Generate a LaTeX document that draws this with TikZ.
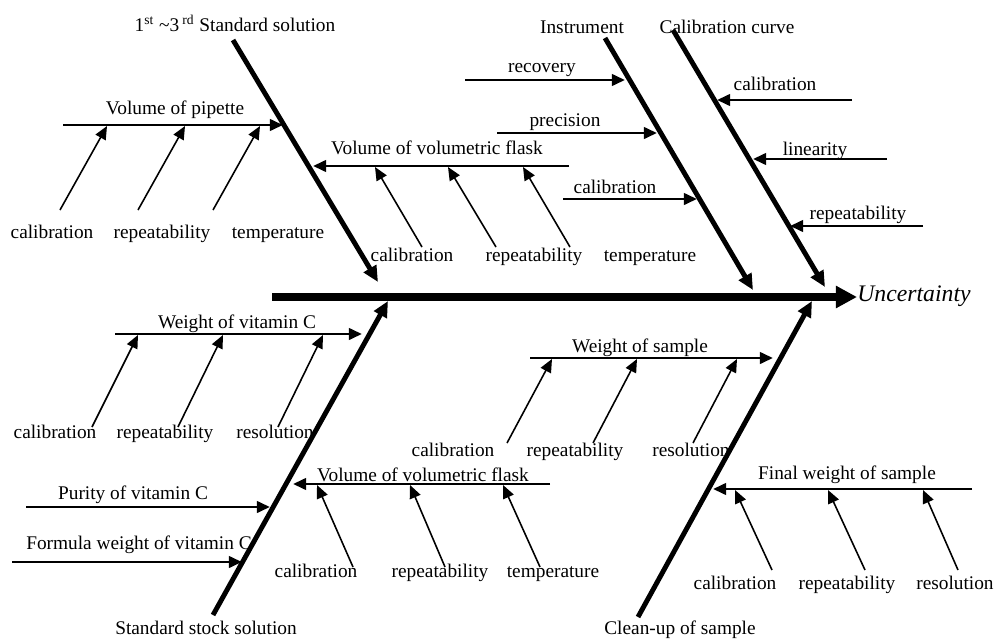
\documentclass[tikz,border=0pt]{standalone}
\usepackage{fontspec}
\setmainfont{Liberation Serif}
\usetikzlibrary{arrows.meta}
\tikzset{
  /tikz/.cd,
  spine/.style={line width=4pt,-{Triangle[length=12pt,width=12pt]}},
  bone/.style={line width=2.8pt,-{Triangle[length=9pt,width=8pt]}},
  branch/.style={line width=1.7pt,-{Triangle[length=7.5pt,width=6.5pt]}},
  cause/.style={line width=0.9pt,-{Triangle[length=7.5pt,width=6.5pt]}},
  txt/.style={inner sep=0pt,yshift=-1.2pt,text height=1.6ex,text depth=0.45ex,font=\fontsize{11}{13}\selectfont}
}

\begin{document}
\begin{tikzpicture}[x=0.02cm,y=-0.02cm]
      \useasboundingbox (0,0) rectangle (995,639);

      % spine
      \coordinate (sp0) at (272,297);
      \node[txt,anchor=west,yshift=1.2pt,font=\fontsize{13.5}{16}\selectfont\itshape] (unc) at (857,297) {Uncertainty};
      \draw[spine] (sp0) -- (unc.west);

      % main bones
      \node[txt] (std) at (235,25) {1\textsuperscript{st} \textasciitilde3\,\textsuperscript{rd} Standard solution};
      \node[txt] (ins) at (582,27) {Instrument};
      \node[txt] (cur) at (727,27) {Calibration curve};
      \node[txt] (stk) at (206,628) {Standard stock solution};
      \node[txt] (cln) at (680,628) {Clean-up of sample};
      \coordinate (std0) at (233,40);  \coordinate (std1) at (378,282);
      \coordinate (ins0) at (605,38);  \coordinate (ins1) at (753,290);
      \coordinate (cur0) at (673,30);  \coordinate (cur1) at (825,287);
      \coordinate (stk0) at (213,615); \coordinate (stk1) at (388,301);
      \coordinate (cln0) at (638,617); \coordinate (cln1) at (812,301);
      \draw[bone] (std0) -- (std1);
      \draw[bone] (ins0) -- (ins1);
      \draw[bone] (cur0) -- (cur1);
      \draw[bone] (stk0) -- (stk1);
      \draw[bone] (cln0) -- (cln1);

      % branches
      \node[txt] (pip) at (175,108) {Volume of pipette};
      \node[txt] (vf1) at (437,148) {Volume of volumetric flask};
      \node[txt] (rec) at (542,66) {recovery};
      \node[txt] (pre) at (565,120) {precision};
      \node[txt] (ica) at (615,187) {calibration};
      \node[txt] (cca) at (775,84) {calibration};
      \node[txt] (lin) at (815,149) {linearity};
      \node[txt] (crp) at (858,213) {repeatability};
      \node[txt] (wvc) at (237,322) {Weight of vitamin C};
      \node[txt] (pur) at (133,493) {Purity of vitamin C};
      \node[txt] (fwv) at (139,543) {Formula weight of vitamin C};
      \node[txt] (vf2) at (423,475) {Volume of volumetric flask};
      \node[txt] (wos) at (640,346) {Weight of sample};
      \node[txt] (fws) at (847,473) {Final weight of sample};

      \coordinate (pip0) at (63,125);  \coordinate (pip1) at (283,125);
      \coordinate (vf10) at (569,166); \coordinate (vf11) at (313,166);
      \coordinate (rec0) at (465,80);  \coordinate (rec1) at (625,80);
      \coordinate (pre0) at (497,133); \coordinate (pre1) at (657,133);
      \coordinate (ica0) at (563,199); \coordinate (ica1) at (697,199);
      \coordinate (cca0) at (852,100); \coordinate (cca1) at (717,100);
      \coordinate (lin0) at (887,159); \coordinate (lin1) at (753,159);
      \coordinate (crp0) at (923,226); \coordinate (crp1) at (790,226);
      \coordinate (wvc0) at (115,334); \coordinate (wvc1) at (362,334);
      \coordinate (pur0) at (26,507);  \coordinate (pur1) at (270,507);
      \coordinate (fwv0) at (12,562);  \coordinate (fwv1) at (242,562);
      \coordinate (vf20) at (550,484); \coordinate (vf21) at (293,484);
      \coordinate (wos0) at (530,358); \coordinate (wos1) at (773,358);
      \coordinate (fws0) at (972,489); \coordinate (fws1) at (713,489);
      \draw[branch] (pip0) -- (pip1);
      \draw[branch] (vf10) -- (vf11);
      \draw[branch] (rec0) -- (rec1);
      \draw[branch] (pre0) -- (pre1);
      \draw[branch] (ica0) -- (ica1);
      \draw[branch] (cca0) -- (cca1);
      \draw[branch] (lin0) -- (lin1);
      \draw[branch] (crp0) -- (crp1);
      \draw[branch] (wvc0) -- (wvc1);
      \draw[branch] (pur0) -- (pur1);
      \draw[branch] (fwv0) -- (fwv1);
      \draw[branch] (vf20) -- (vf21);
      \draw[branch] (wos0) -- (wos1);
      \draw[branch] (fws0) -- (fws1);

      % causes: volume of pipette
      \node[txt] (pipa) at (52,232) {calibration};
      \node[txt] (pipb) at (162,232) {repeatability};
      \node[txt] (pipc) at (278,232) {temperature};
      \coordinate (pipa0) at (60,210);  \coordinate (pipa1) at (107,126);
      \coordinate (pipb0) at (138,210); \coordinate (pipb1) at (185,126);
      \coordinate (pipc0) at (213,210); \coordinate (pipc1) at (260,126);
      \draw[cause] (pipa0) -- (pipa1);
      \draw[cause] (pipb0) -- (pipb1);
      \draw[cause] (pipc0) -- (pipc1);

      % causes: volume of volumetric flask (upper)
      \node[txt] (vf1a) at (412,255) {calibration};
      \node[txt] (vf1b) at (534,255) {repeatability};
      \node[txt] (vf1c) at (650,255) {temperature};
      \coordinate (vf1a0) at (422,247); \coordinate (vf1a1) at (375,167);
      \coordinate (vf1b0) at (496,247); \coordinate (vf1b1) at (448,167);
      \coordinate (vf1c0) at (570,247); \coordinate (vf1c1) at (523,167);
      \draw[cause] (vf1a0) -- (vf1a1);
      \draw[cause] (vf1b0) -- (vf1b1);
      \draw[cause] (vf1c0) -- (vf1c1);

      % causes: weight of vitamin C
      \node[txt] (wvca) at (55,432) {calibration};
      \node[txt] (wvcb) at (165,432) {repeatability};
      \node[txt] (wvcc) at (275,432) {resolution};
      \coordinate (wvca0) at (92,427);  \coordinate (wvca1) at (138,335);
      \coordinate (wvcb0) at (178,427); \coordinate (wvcb1) at (223,335);
      \coordinate (wvcc0) at (278,427); \coordinate (wvcc1) at (323,335);
      \draw[cause] (wvca0) -- (wvca1);
      \draw[cause] (wvcb0) -- (wvcb1);
      \draw[cause] (wvcc0) -- (wvcc1);

      % causes: volume of volumetric flask (lower)
      \node[txt] (vf2a) at (316,571) {calibration};
      \node[txt] (vf2b) at (440,571) {repeatability};
      \node[txt] (vf2c) at (553,571) {temperature};
      \coordinate (vf2a0) at (353,567); \coordinate (vf2a1) at (317,485);
      \coordinate (vf2b0) at (445,567); \coordinate (vf2b1) at (410,485);
      \coordinate (vf2c0) at (540,567); \coordinate (vf2c1) at (503,485);
      \draw[cause] (vf2a0) -- (vf2a1);
      \draw[cause] (vf2b0) -- (vf2b1);
      \draw[cause] (vf2c0) -- (vf2c1);

      % causes: weight of sample
      \node[txt] (wosa) at (453,450) {calibration};
      \node[txt] (wosb) at (575,450) {repeatability};
      \node[txt] (wosc) at (691,450) {resolution};
      \coordinate (wosa0) at (507,443); \coordinate (wosa1) at (552,359);
      \coordinate (wosb0) at (593,443); \coordinate (wosb1) at (637,359);
      \coordinate (wosc0) at (693,443); \coordinate (wosc1) at (737,359);
      \draw[cause] (wosa0) -- (wosa1);
      \draw[cause] (wosb0) -- (wosb1);
      \draw[cause] (wosc0) -- (wosc1);

      % causes: final weight of sample
      \node[txt] (fwsa) at (735,583) {calibration};
      \node[txt] (fwsb) at (847,583) {repeatability};
      \node[txt] (fwsc) at (955,583) {resolution};
      \coordinate (fwsa0) at (772,570); \coordinate (fwsa1) at (735,490);
      \coordinate (fwsb0) at (865,570); \coordinate (fwsb1) at (828,490);
      \coordinate (fwsc0) at (958,570); \coordinate (fwsc1) at (923,490);
      \draw[cause] (fwsa0) -- (fwsa1);
      \draw[cause] (fwsb0) -- (fwsb1);
      \draw[cause] (fwsc0) -- (fwsc1);
    \end{tikzpicture}
\end{document}
